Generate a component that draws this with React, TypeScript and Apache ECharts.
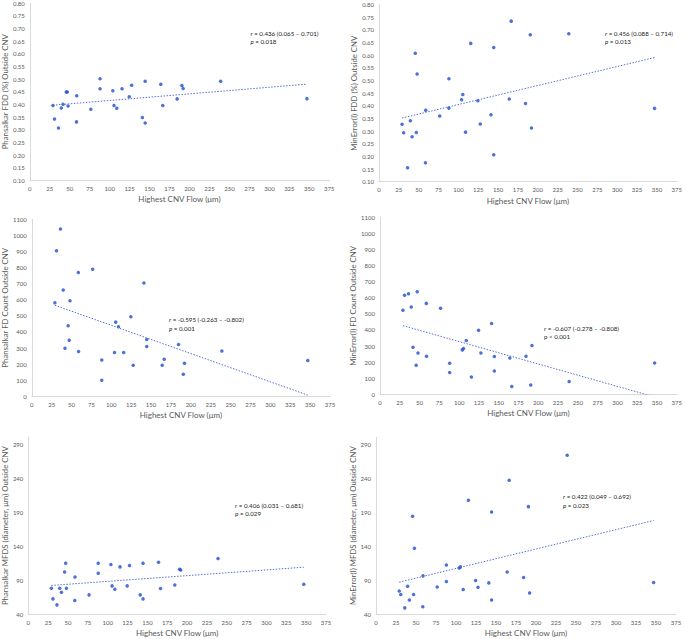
import React, { useEffect, useRef } from "react";
import * as echarts from "echarts";

// Highest CNV flow (µm) – shared by all six panels
const flow = [29, 31, 36, 39.5, 41.7, 45.7, 47, 48, 58.5, 58.8, 76.5, 88, 88, 104, 105.5, 109, 115.5, 124.5, 127.5, 141, 144.5, 144.5, 164, 166.5, 184.5, 190.5, 192, 239, 347];

const phansalkarFDD = [0.396, 0.342, 0.307, 0.386, 0.401, 0.449, 0.449, 0.394, 0.331, 0.434, 0.381, 0.502, 0.462, 0.454, 0.396, 0.385, 0.462, 0.43, 0.476, 0.348, 0.492, 0.327, 0.48, 0.396, 0.422, 0.475, 0.463, 0.492, 0.423];
const minErrorFDD = [0.327, 0.294, 0.155, 0.341, 0.278, 0.608, 0.295, 0.526, 0.175, 0.383, 0.36, 0.507, 0.391, 0.424, 0.445, 0.296, 0.647, 0.42, 0.328, 0.365, 0.631, 0.207, 0.427, 0.735, 0.409, 0.681, 0.312, 0.685, 0.39];
const phansalkarCount = [581, 905, 1040, 660, 299, 438, 349, 594, 770, 278, 789, 226, 100, 272, 461, 432, 272, 494, 193, 704, 353, 309, 193, 230, 322, 137, 205, 282, 222];
const minErrorCount = [523, 616, 625, 542, 293, 181, 637, 257, 565, 237, 535, 193, 135, 276, 284, 334, 108, 398, 257, 440, 235, 145, 226, 48, 237, 58, 303, 79, 195];
const phansalkarMFDS = [78, 62.5, 53.7, 78, 72.3, 102, 115, 78.2, 60, 94.8, 68.4, 115, 100.2, 112.9, 81.6, 76.7, 109.5, 81.6, 111.4, 68.4, 115, 62.5, 116.3, 77.7, 83, 106, 105, 121.7, 84];
const minErrorMFDS = [74.2, 68.9, 49.3, 81.1, 61, 183.8, 68.9, 136.9, 50.8, 96.3, 80.1, 112.4, 87.9, 108, 109.5, 76.2, 207.3, 89.4, 79.6, 86, 190.2, 61, 102.1, 236.7, 93.8, 198, 71.3, 273.4, 86.5];

const xTitle = "Highest CNV Flow (μm)";
const yTitles = [
  "Phansalkar FDD (%) Outside CNV",
  "MinError(I) FDD (%) Outside CNV",
  "Phansalkar FD Count Outside CNV",
  "MinError(I) FD Count Outside CNV",
  "Phansalkar MFDS (diameter, μm) Outside CNV",
  "MinError(I) MFDS (diameter, μm) Outside CNV",
];
const rTexts = [
  " = 0.436 (0.065 – 0.701)",
  " = 0.456 (0.088 – 0.714)",
  " = -0.595 (-0.263 – -0.802)",
  " = -0.607 (-0.278 – -0.808)",
  " = 0.406 (0.031 – 0.681)",
  " = 0.422 (0.049 – 0.692)",
];
const pTexts = [" = 0.018", " = 0.013", " = 0.001", " < 0.001", " = 0.029", " = 0.023"];
const mfdsTicks = [40, 90, 140, 190, 240, 290];

const FONT = "Lato";
const GREY = "#595959";

function ols(xs: number[], ys: number[]) {
  const n = xs.length;
  const mx = xs.reduce((a, b) => a + b, 0) / n;
  const my = ys.reduce((a, b) => a + b, 0) / n;
  let sxy = 0, sxx = 0;
  for (let i = 0; i < n; i++) {
    sxy += (xs[i] - mx) * (ys[i] - my);
    sxx += (xs[i] - mx) * (xs[i] - mx);
  }
  const b = sxy / sxx;
  const a = my - b * mx;
  const x0 = Math.min(...xs), x1 = Math.max(...xs);
  return [[x0, a + b * x0], [x1, a + b * x1]];
}

export default function App() {
  const ref = useRef<HTMLDivElement>(null);
  useEffect(() => {
    document.body.style.margin = "0";
    const chart = echarts.init(ref.current!, null, { renderer: "svg" });
    const series = [phansalkarFDD, minErrorFDD, phansalkarCount, minErrorCount, phansalkarMFDS, minErrorMFDS];
    const layout = [
      { left: 29.3, top: 3.3, nameGap: 19 },
      { left: 379, top: 4.7, nameGap: 19 },
      { left: 30, top: 219.3, nameGap: 19 },
      { left: 380, top: 217.3, nameGap: 20 },
      { left: 26, top: 437.2, nameGap: 18 },
      { left: 376, top: 437.2, nameGap: 16 },
    ];
    const yScales = [
      { min: 0.1, max: 0.8, interval: 0.05, dec: 2 },
      { min: 0.1, max: 0.8, interval: 0.05, dec: 2 },
      { min: 0, max: 1100, interval: 100, dec: 0 },
      { min: 0, max: 1100, interval: 100, dec: 0 },
      { min: 40, max: 300, interval: 0, dec: 0 },
      { min: 40, max: 300, interval: 0, dec: 0 },
    ];
    const annPos = [
      { x: 250.5, y: 34, py: 42.7, italic: true },
      { x: 605, y: 34, py: 42.7, italic: true },
      { x: 169, y: 320, py: 329, italic: true },
      { x: 544, y: 329, py: 337.5, italic: false },
      { x: 235, y: 506, py: 514.5, italic: false },
      { x: 563, y: 497.7, py: 506, italic: true },
    ];

    const grid: any[] = [], xAxis: any[] = [], yAxis: any[] = [], s: any[] = [], graphic: any[] = [];
    series.forEach((ys, i) => {
      const L = layout[i];
      const Y = yScales[i];
      grid.push({ left: L.left, top: L.top, width: 300, height: 177, containLabel: false });
      xAxis.push({
        type: "value", gridIndex: i, min: 0, max: 375, interval: 25,
        axisLine: { show: true, onZero: false, lineStyle: { color: "#d9d9d9", width: 1 } },
        axisTick: { show: false }, splitLine: { show: false },
        axisLabel: { fontSize: 6, color: GREY, margin: 5, fontFamily: FONT },
        name: xTitle, nameLocation: "middle", nameGap: 15,
        nameTextStyle: { fontSize: 8, color: GREY, fontFamily: FONT, fontWeight: "normal" },
      });
      const ya: any = {
        type: "value", gridIndex: i, min: Y.min, max: Y.max,
        axisLine: { show: true, onZero: false, lineStyle: { color: "#d9d9d9", width: 1 } },
        axisTick: { show: false }, splitLine: { show: false },
        axisLabel: {
          fontSize: 6, color: GREY, margin: 5, fontFamily: FONT,
          formatter: (v: number) => v.toFixed(Y.dec),
        },
        name: yTitles[i], nameLocation: "middle", nameGap: L.nameGap,
        nameTextStyle: { fontSize: 7.8, color: GREY, fontFamily: FONT, fontWeight: "normal" },
      };
      if (Y.interval) ya.interval = Y.interval;
      else ya.axisLabel.customValues = mfdsTicks;
      yAxis.push(ya);
      s.push({
        type: "scatter", xAxisIndex: i, yAxisIndex: i,
        data: flow.map((x, k) => [x, ys[k]]),
        symbol: "circle", symbolSize: 3.5,
        itemStyle: { color: "#1f4fcc" },
      });
      s.push({
        type: "line", xAxisIndex: i, yAxisIndex: i,
        data: ols(flow, ys), symbol: "none", clip: true,
        lineStyle: { color: "#5a6fd4", width: 1, type: [1.5, 1.5] },
      });
      const A = annPos[i];
      const ital = A.italic ? "italic" : "normal";
      graphic.push({
        type: "text", left: A.x, top: A.y - 4,
        style: {
          text: "{i|r}" + rTexts[i], fontSize: 6.2, fill: "#222", fontFamily: FONT,
          rich: { i: { fontStyle: ital, fontSize: 6.2, fill: "#222", fontFamily: FONT } },
        },
      });
      graphic.push({
        type: "text", left: A.x, top: A.py - 4,
        style: {
          text: "{i|p}" + pTexts[i], fontSize: 6.2, fill: "#222", fontFamily: FONT,
          rich: { i: { fontStyle: ital, fontSize: 6.2, fill: "#222", fontFamily: FONT } },
        },
      });
    });

    chart.setOption({
      animation: false,
      backgroundColor: "#ffffff",
      textStyle: { fontFamily: FONT },
      grid, xAxis, yAxis, series: s, graphic,
    });
    return () => chart.dispose();
  }, []);
  return <div ref={ref} style={{ width: 685, height: 639 }} />;
}
